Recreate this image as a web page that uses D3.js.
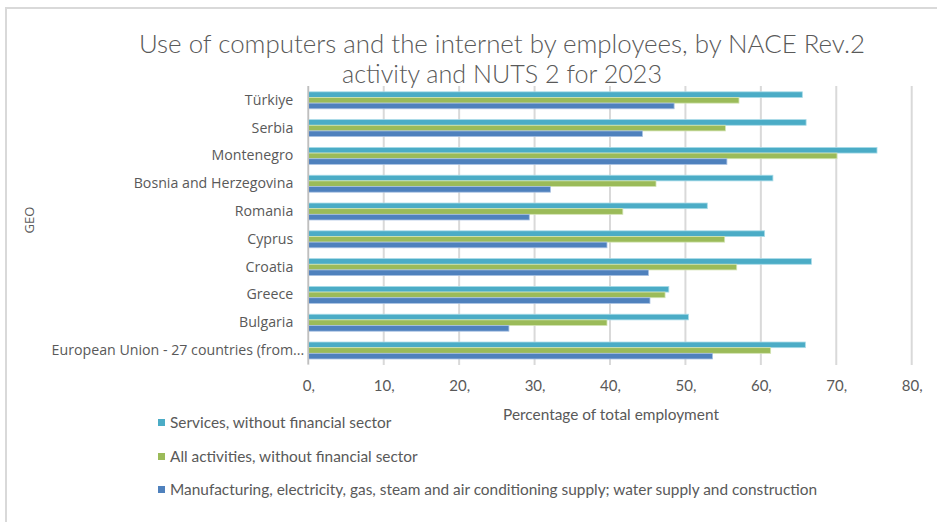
<!DOCTYPE html>
<html>
<head>
<meta charset="utf-8">
<script src="https://cdn.jsdelivr.net/npm/d3@7"></script>
<style>
  body { margin: 0; background: #fff; }
  svg { display: block; }
</style>
</head>
<body>
<svg id="chart" width="937" height="522"></svg>
<script>
// Categories, top to bottom
const categories = [
  "Türkiye", "Serbia", "Montenegro", "Bosnia and Herzegovina", "Romania",
  "Cyprus", "Croatia", "Greece", "Bulgaria", "European Union - 27 countries (from..."
];

// Percentage of total employment, one array per series
const servicesValues      = [65.5, 66.0, 75.4, 61.6, 52.9, 60.5, 66.7, 47.8, 50.4, 65.9];
const allActivitiesValues = [57.1, 55.3, 70.1, 46.1, 41.7, 55.2, 56.8, 47.3, 39.6, 61.3];
const manufacturingValues = [48.5, 44.3, 55.5, 32.1, 29.3, 39.6, 45.1, 45.3, 26.6, 53.6];

const seriesNames = [
  "Services, without financial sector",
  "All activities, without financial sector",
  "Manufacturing, electricity, gas, steam and air conditioning supply; water supply and construction"
];
const seriesColors = ["#4bacc6", "#9bbb59", "#4f81bd"];
const seriesStrokes = ["#a9dbe8", "#d3e4b3", "#a8c1e2"];

const tickValues = [0, 10, 20, 30, 40, 50, 60, 70, 80];
const tickLabels = ["0,", "10,", "20,", "30,", "40,", "50,", "60,", "70,", "80,"];

const titleLines = [
  "Use of computers and the internet by employees, by NACE Rev.2",
  "activity and NUTS 2 for 2023"
];

const seriesValues = [servicesValues, allActivitiesValues, manufacturingValues];
const rows = categories.map((c, i) => ({
  category: c,
  values: seriesValues.map((vals, s) => ({ series: s, value: vals[i] }))
}));

const narrow = "Lato, 'Open Sans', sans-serif";
const sans = "'Open Sans', 'Noto Sans', sans-serif";
const textColor = "#595959";
const gridColor = "#d9d9d9";

const svg = d3.select("#chart");

// Chart frame (top and left edges)
svg.append("path")
  .attr("d", "M6,522 V8 H937")
  .attr("fill", "none")
  .attr("stroke", gridColor)
  .attr("stroke-width", 2);

// Scales
const x = d3.scaleLinear().domain([0, 80]).range([308.3, 911.7]);
const y = d3.scaleBand().domain(categories).range([86.4, 364.4])
  .paddingInner(0.39).paddingOuter(0.195);
const ySub = d3.scaleBand().domain(d3.range(seriesNames.length)).range([0, y.bandwidth()]);

// Title
svg.append("g").selectAll("text")
  .data(titleLines)
  .join("text")
  .attr("x", 502)
  .attr("y", (d, i) => 53 + i * 30)
  .attr("text-anchor", "middle")
  .attr("font-family", narrow)
  .attr("font-weight", 300)
  .attr("font-size", 26)
  .attr("fill", textColor)
  .attr("textLength", (d, i) => i === 0 ? 726 : 320)
  .attr("lengthAdjust", "spacingAndGlyphs")
  .text(d => d);

// Vertical gridlines
svg.append("g").selectAll("line")
  .data(tickValues)
  .join("line")
  .attr("x1", d => x(d)).attr("x2", d => x(d))
  .attr("y1", 86).attr("y2", 365)
  .attr("stroke", gridColor)
  .attr("stroke-width", 2);

// Bars
const groups = svg.append("g").selectAll("g")
  .data(rows)
  .join("g")
  .attr("transform", d => `translate(0,${y(d.category)})`);

groups.selectAll("rect")
  .data(d => d.values)
  .join("rect")
  .attr("x", x(0))
  .attr("y", d => ySub(d.series))
  .attr("width", d => x(d.value) - x(0))
  .attr("height", ySub.bandwidth())
  .attr("fill", d => seriesColors[d.series])
  .attr("stroke", d => seriesStrokes[d.series])
  .attr("stroke-width", 0.8);

// Category axis line
svg.append("line")
  .attr("x1", x(0)).attr("x2", x(0))
  .attr("y1", 86).attr("y2", 364)
  .attr("stroke", "#bfbfbf")
  .attr("stroke-width", 1.5);

// Category labels (the truncated last label sits a little closer to the axis)
const yAxis = d3.axisLeft(y).tickSize(0).tickPadding(15);
const yAxisG = svg.append("g")
  .attr("transform", `translate(${x(0)},0)`)
  .call(yAxis);
yAxisG.select(".domain").remove();
yAxisG.selectAll("text")
  .attr("font-family", sans)
  .attr("font-size", 14.2)
  .attr("fill", textColor)
  .attr("dx", (d, i) => i === categories.length - 1 ? 11 : 0);

// Value axis labels
const xAxis = d3.axisBottom(x).tickValues(tickValues)
  .tickFormat((d, i) => tickLabels[i]).tickSize(0).tickPadding(0);
const xAxisG = svg.append("g")
  .attr("transform", "translate(0,382)")
  .call(xAxis);
xAxisG.select(".domain").remove();
xAxisG.selectAll("text")
  .attr("font-family", narrow)
  .attr("font-size", 15)
  .attr("fill", textColor)
  .attr("dy", "0.6em");

// Axis titles
svg.append("text")
  .attr("x", 611).attr("y", 420)
  .attr("text-anchor", "middle")
  .attr("font-family", narrow)
  .attr("font-size", 15.4)
  .attr("fill", textColor)
  .text("Percentage of total employment");

svg.append("text")
  .attr("transform", "translate(34,220) rotate(-90)")
  .attr("text-anchor", "middle")
  .attr("font-family", sans)
  .attr("font-size", 13)
  .attr("fill", textColor)
  .text("GEO");

// Legend
const legend = svg.append("g").selectAll("g")
  .data(seriesNames)
  .join("g")
  .attr("transform", (d, i) => `translate(158,${[423, 457, 490][i]})`);

legend.append("rect")
  .attr("x", 0).attr("y", -4)
  .attr("width", 7).attr("height", 7)
  .attr("fill", (d, i) => seriesColors[i]);

legend.append("text")
  .attr("x", 12).attr("y", 0)
  .attr("dy", "0.35em")
  .attr("font-family", narrow)
  .attr("font-size", 15.4)
  .attr("fill", textColor)
  .text(d => d);
</script>
</body>
</html>
